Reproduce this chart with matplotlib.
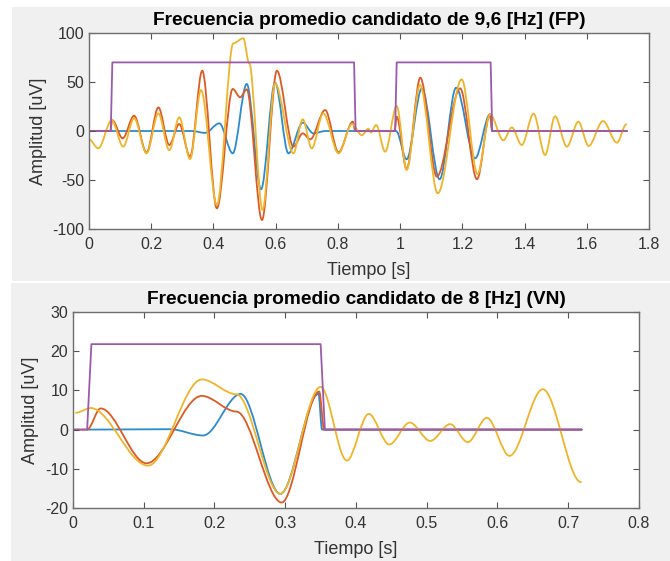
import matplotlib
matplotlib.use('Agg')
import matplotlib.pyplot as plt
from matplotlib.path import Path
from matplotlib.patches import PathPatch, Rectangle

plt.rcParams['font.family'] = ['Liberation Sans', 'DejaVu Sans']
plt.rcParams['axes.unicode_minus'] = False

# Colores tipo MATLAB (un poco aclarados como en la captura)
c_azul = '#2b8bd0'
c_naranja = '#dc5a25'
c_amarillo = '#f0b42a'
c_morado = '#9c5aac'

# ---- Grafica superior: 9,6 Hz (FP) ----  (tiempo en s, amplitud en uV, extremos leidos)
sup_azul_t = [0.0, 0.33, 0.373, 0.419, 0.462, 0.507, 0.553, 0.598, 0.641, 0.687, 0.721, 0.76, 0.987,
              1.021, 1.070, 1.127, 1.180, 1.241, 1.289, 1.296, 1.729]
sup_azul_v = [0, 0, -1.9, 7.8, -22.8, 48, -59.5, 49.3, -22.8, 8.5, -2.4, 0, 0,
              -28.9, 43.5, -49.3, 44.2, -27.9, 17, 0, 0]

sup_naranja_t = [0.0, 0.068, 0.075, 0.108, 0.145, 0.185, 0.223, 0.258, 0.290, 0.325, 0.364, 0.411,
                 0.462, 0.486, 0.507, 0.556, 0.604, 0.657, 0.687, 0.711, 0.759, 0.802, 0.848, 0.856,
                 0.982, 0.989, 1.021, 1.065, 1.118, 1.193, 1.247, 1.289, 1.296, 1.729]
sup_naranja_v = [0, 0, 11, -7.5, 15.6, -22.1, 24.1, -14.3, 7.1, -26.2, 61.5, -78.9,
                 42.9, 34.4, 42.5, -90.8, 61.5, -16, -2.4, -8.5, 21.4, -21.8, 9.5, 0,
                 0, 14.6, -38.8, 54.4, -46.6, 43.5, -49.3, 17, 0, 0]

sup_amarillo_t = [0.0, 0.030, 0.073, 0.110, 0.145, 0.185, 0.223, 0.258, 0.290, 0.325, 0.360, 0.411,
                  0.464, 0.496, 0.515, 0.558, 0.598, 0.657, 0.687, 0.716, 0.753, 0.802, 0.845, 0.877,
                  0.898, 0.906, 0.923, 0.952, 0.989, 1.021, 1.064, 1.121, 1.198, 1.249, 1.289, 1.332,
                  1.359, 1.391, 1.429, 1.466, 1.498, 1.536, 1.573, 1.606, 1.652, 1.697, 1.727]
sup_amarillo_v = [-8.5, -17.7, 11, -16, 13, -22.8, 18, -19.7, 14, -28.6, 41.8, -75.5,
                  89.5, 94.6, 69, -80.6, 48.6, -22.8, 11.9, -17.7, 18, -22.8, 7.1, -4.4,
                  2.4, -1.5, 6.1, -21.1, 25.5, -39.8, 46.9, -63.6, 52.7, -43.9, 17, -9.5,
                  3.7, -14.3, 17.7, -24.5, 15, -16, 9.5, -15.3, 10.2, -12, 6.8]

sup_morado_t = [0.0, 0.070, 0.075, 0.852, 0.857, 0.984, 0.989, 1.291, 1.296, 1.729]
sup_morado_v = [0, 0, 70, 70, 0, 0, 70, 70, 0, 0]

# ---- Grafica inferior: 8 Hz (VN) ----
inf_azul_t = [0.020, 0.137, 0.184, 0.237, 0.293, 0.347, 0.352, 0.719]
inf_azul_v = [0, 0.1, -1.5, 9.1, -16.4, 9.1, 0, 0]

inf_naranja_t = [0.0, 0.020, 0.039, 0.104, 0.182, 0.231, 0.295, 0.348, 0.355, 0.719]
inf_naranja_v = [0, 0, 5.4, -8.6, 8.6, 4.6, -18.6, 9.7, 0, 0]

inf_amarillo_t = [0.004, 0.025, 0.106, 0.182, 0.231, 0.293, 0.350, 0.387, 0.418, 0.447, 0.476,
                  0.505, 0.533, 0.558, 0.585, 0.617, 0.664, 0.718]
inf_amarillo_v = [4.3, 5.5, -9.2, 12.8, 9, -16.4, 10.9, -7.9, 4, -3.8, 1.8,
                  -2.9, 1.4, -3.2, 3.0, -6.7, 10.3, -13.4]

inf_morado_t = [0.0, 0.020, 0.026, 0.350, 0.356, 0.719]
inf_morado_v = [0, 0, 21.8, 21.8, 0, 0]


def curva(ax, ts, vs, color, suave=True, lw=1.3):
    # curva de Bezier con tangente horizontal en cada extremo leido
    verts = [(ts[0], vs[0])]
    codes = [Path.MOVETO]
    for i in range(len(ts) - 1):
        if suave:
            d = (ts[i + 1] - ts[i]) / 3.0
            verts += [(ts[i] + d, vs[i]), (ts[i + 1] - d, vs[i + 1]), (ts[i + 1], vs[i + 1])]
            codes += [Path.CURVE4] * 3
        else:
            verts.append((ts[i + 1], vs[i + 1]))
            codes.append(Path.LINETO)
    ax.add_patch(PathPatch(Path(verts, codes), fill=False, edgecolor=color, lw=lw,
                           joinstyle='round', capstyle='round'))


fig = plt.figure(figsize=(6.7, 5.61), dpi=100, facecolor='white')
fig.patches.append(Rectangle((12 / 670, 1 - 281 / 561), 1, 274 / 561, transform=fig.transFigure,
                             facecolor='#f0f0f0', edgecolor='none', zorder=-10))
fig.patches.append(Rectangle((11 / 670, 0), 1, 278 / 561, transform=fig.transFigure,
                             facecolor='#f0f0f0', edgecolor='none', zorder=-10))

ax1 = fig.add_axes([89 / 670, 1 - 229 / 561, 560 / 670, 196 / 561])
ax2 = fig.add_axes([73 / 670, 1 - 508 / 561, 566 / 670, 196 / 561])

curva(ax1, sup_azul_t, sup_azul_v, c_azul)
curva(ax1, sup_naranja_t, sup_naranja_v, c_naranja)
curva(ax1, sup_amarillo_t, sup_amarillo_v, c_amarillo)
curva(ax1, sup_morado_t, sup_morado_v, c_morado, suave=False)

curva(ax2, inf_azul_t, inf_azul_v, c_azul)
curva(ax2, inf_naranja_t, inf_naranja_v, c_naranja)
curva(ax2, inf_amarillo_t, inf_amarillo_v, c_amarillo)
curva(ax2, inf_morado_t, inf_morado_v, c_morado, suave=False)

ax1.set_xlim(0, 1.8)
ax1.set_ylim(-100, 100)
ax1.set_xticks([0, 0.2, 0.4, 0.6, 0.8, 1, 1.2, 1.4, 1.6, 1.8])
ax1.set_xticklabels(['0', '0.2', '0.4', '0.6', '0.8', '1', '1.2', '1.4', '1.6', '1.8'])
ax1.set_yticks([-100, -50, 0, 50, 100])
ax1.set_title('Frecuencia promedio candidato de 9,6 [Hz] (FP)', fontsize=13.8, fontweight='bold', pad=6)

ax2.set_xlim(0, 0.8)
ax2.set_ylim(-20, 30)
ax2.set_xticks([0, 0.1, 0.2, 0.3, 0.4, 0.5, 0.6, 0.7, 0.8])
ax2.set_xticklabels(['0', '0.1', '0.2', '0.3', '0.4', '0.5', '0.6', '0.7', '0.8'])
ax2.set_yticks([-20, -10, 0, 10, 20, 30])
ax2.set_title('Frecuencia promedio candidato de 8 [Hz] (VN)', fontsize=13.8, fontweight='bold', pad=6)

for ax in (ax1, ax2):
    ax.set_facecolor('white')
    ax.set_xlabel('Tiempo [s]', fontsize=13, color='#333333', labelpad=7)
    ax.set_ylabel('Amplitud [uV]', fontsize=13, color='#333333', labelpad=4)
    ax.tick_params(direction='in', length=4, width=0.8, top=True, right=True,
                   labelsize=11.5, colors='#555555', labelcolor='#333333')
    ax.tick_params(axis='x', pad=6)
    for s in ax.spines.values():
        s.set_color('#6e6e6e')
        s.set_linewidth(1.0)

fig.savefig('out.png', dpi=100, facecolor=fig.get_facecolor())
